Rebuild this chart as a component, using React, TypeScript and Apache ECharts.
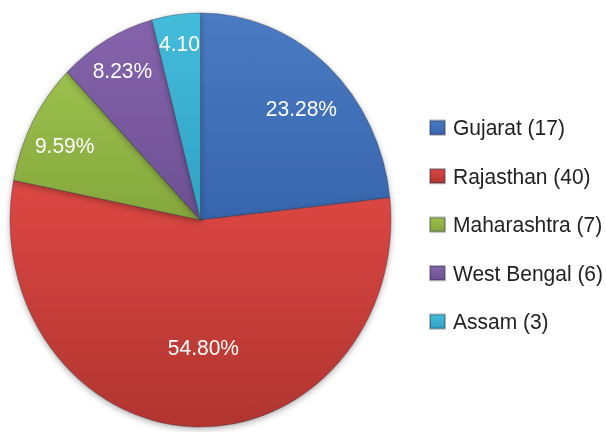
import React, { useEffect, useRef } from "react";
import * as echarts from "echarts";

const categories = ["Gujarat", "Rajasthan", "Maharashtra", "West Bengal", "Assam"];
const counts = [17, 40, 7, 6, 3];
const pctLabels = ["23.28%", "54.80%", "9.59%", "8.23%", "4.10"];

const topColors = ["#4A7BC2", "#DD4744", "#9CC04E", "#8564AC", "#45BCDB"];
const bottomColors = ["#3765AD", "#B1352F", "#85A73C", "#6D4F93", "#2FA2C3"];
const labelRadiusFrac = [0.758, 0.613, 0.8, 0.83, 0.86];
const labelAngleShift = [-2.4, 3.9, 1.4, 0, 0];

const STRETCH = 1.0866;
const CX = 200.5;
const CY = 202.5;
const R = 190.5;
const FONT = "'Liberation Sans', Arial, Helvetica, sans-serif";

export default function App() {
  const ref = useRef<HTMLDivElement>(null);
  useEffect(() => {
    if (!ref.current) return;
    const chart = echarts.init(ref.current, undefined, { renderer: "svg" });
    const total = counts.reduce((a, b) => a + b, 0);
    const midAngles: number[] = [];
    let cum = 0;
    counts.forEach((v, i) => {
      midAngles.push(((90 - ((cum + v / 2) / total) * 360 + labelAngleShift[i]) * Math.PI) / 180);
      cum += v;
    });
    const data = categories.map((c, i) => ({
      name: `${c} (${counts[i]})`,
      value: counts[i],
      itemStyle: {
        color: new echarts.graphic.LinearGradient(0, 0, 0, 1, [
          { offset: 0, color: topColors[i] },
          { offset: 1, color: bottomColors[i] },
        ]),
      },
    }));
    chart.setOption({
      animation: false,
      backgroundColor: "#ffffff",
      legend: {
        orient: "vertical",
        left: 429,
        top: 107,
        padding: 0,
        itemWidth: 15,
        itemHeight: 13,
        itemGap: 23.6,
        icon: "rect",
        textStyle: {
          fontFamily: FONT,
          fontSize: 21,
          lineHeight: 21,
          color: "#222222",
          padding: [0, 0, 0, 3],
        },
        data: data.map((d) => d.name),
      },
      series: [
        {
          type: "pie",
          center: [CX, CY],
          radius: R,
          startAngle: 90,
          clockwise: true,
          avoidLabelOverlap: false,
          emphasis: { disabled: true },
          itemStyle: {
            borderColor: "rgba(40,40,60,0.35)",
            borderWidth: 1,
            shadowBlur: 6,
            shadowColor: "rgba(0,0,0,0.3)",
            shadowOffsetY: 2,
          },
          label: {
            show: true,
            position: "inside",
            color: "#ffffff",
            fontFamily: FONT,
            fontSize: 21,
            formatter: (p: any) => pctLabels[p.dataIndex],
          },
          labelLine: { show: false },
          labelLayout: (params: any) => {
            const i = params.dataIndex;
            const a = midAngles[i];
            const d = labelRadiusFrac[i] * R;
            return {
              x: CX + d * Math.cos(a),
              y: CY - d * Math.sin(a),
              align: "center",
              verticalAlign: "middle",
            };
          },
          data,
        },
      ],
    });
    return () => chart.dispose();
  }, []);
  return (
    <div style={{ position: "absolute", left: 0, top: 0, width: 606, height: 432, overflow: "hidden", background: "#fff" }}>
      <div
        ref={ref}
        style={{
          width: 606,
          height: 432 / STRETCH,
          transform: `scaleY(${STRETCH})`,
          transformOrigin: "0 0",
        }}
      />
    </div>
  );
}
